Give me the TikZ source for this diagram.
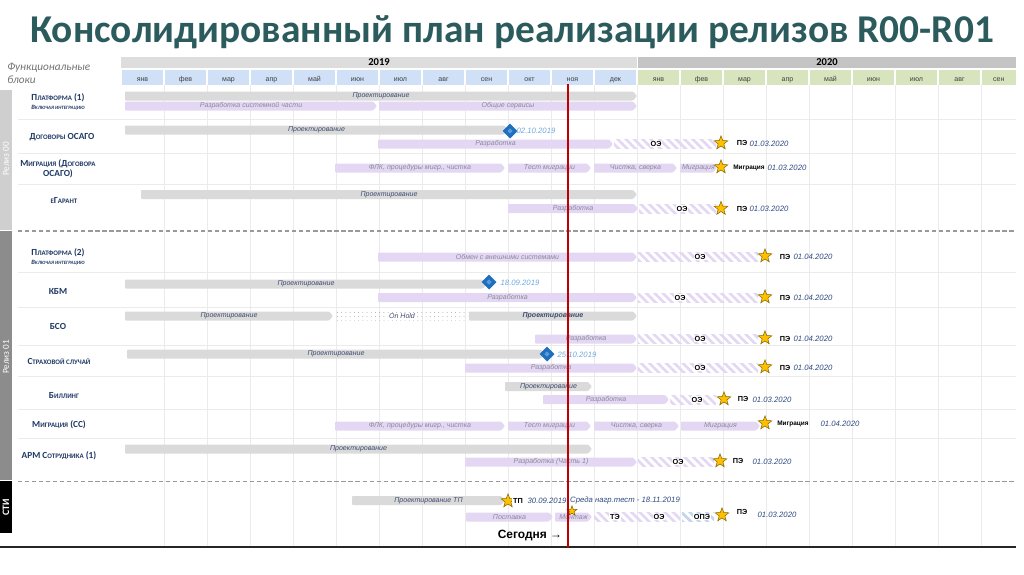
\documentclass[tikz,border=0pt]{standalone}
\usepackage{fontspec}
\setmainfont{Liberation Sans}
\newfontfamily\calibri{Carlito}
\usetikzlibrary{shapes.geometric,patterns.meta}

\definecolor{titleCol}{HTML}{2B5B5C}
\definecolor{navy}{HTML}{1F3864}
\definecolor{barGrey}{HTML}{DADADA}
\definecolor{barLav}{HTML}{E3D7F3}
\definecolor{txtBlue}{HTML}{3D4B6E}
\definecolor{txtGrey}{HTML}{8A8A9A}
\definecolor{dateBlue}{HTML}{2F4A80}
\definecolor{diaBlue}{HTML}{1F6FC0}
\definecolor{diaLight}{HTML}{5B9BD5}
\definecolor{diaText}{HTML}{6FA8DC}
\definecolor{starGold}{HTML}{FFC000}
\definecolor{starEdge}{HTML}{7F6000}
\definecolor{yr19}{HTML}{DDDDDD}
\definecolor{yr20}{HTML}{C4C4C4}
\definecolor{mon19}{HTML}{CFE0F7}
\definecolor{mon20}{HTML}{D8E4BE}
\definecolor{gridCol}{HTML}{EBEBEB}
\definecolor{todayRed}{HTML}{C00000}
\definecolor{rel00}{HTML}{CFCFCF}
\definecolor{rel01}{HTML}{8C8C8C}
\definecolor{opeBlue}{HTML}{C5D5EE}

% fake small caps for the block names
\newcommand\smc[1]{{\fontsize{4.9}{5}\selectfont\MakeUppercase{#1}}}
\newcommand\smcs[1]{{\fontsize{3.5}{4}\selectfont\MakeUppercase{#1}}}

% style, name, x from, x to, y, text
\newcommand\ganttbar[6]{%
  \fill[#1] (#3,#5-4.5) -- (#4-4,#5-4.5) -- (#4,#5) -- (#4-4,#5+4.5) -- (#3,#5+4.5) -- cycle;
  \node[#1 text] (#2) at ({(#3+#4)/2},#5) {#6};}
% hatched phase: [colour] x from, x to, y
\newcommand\phase[4][barLav]{%
  \fill[pattern={Lines[angle=-45,distance=4.2pt,line width=1.9pt]}, pattern color=#1] (#2,#4-4.5) rectangle (#3,#4+4.5);}

\begin{document}
\begin{tikzpicture}[x=0.025cm, y=-0.025cm,
    gtask/.style={fill=barGrey, rounded corners=0.6pt},
    gtask text/.style={font=\fontsize{5}{6}\selectfont\itshape, text=txtBlue, inner sep=0},
    ltask/.style={fill=barLav, rounded corners=0.6pt},
    ltask text/.style={font=\fontsize{5}{6}\selectfont\itshape, text=txtGrey, inner sep=0},
    block/.style={font=\calibri\bfseries\fontsize{6.6}{7.4}\selectfont, text=navy, align=center, inner sep=0},
    month/.style={font=\fontsize{5}{6}\selectfont, text=black!75, text height=1.5ex, text depth=0.3ex, inner sep=0},
    year/.style={font=\calibri\bfseries\fontsize{7.5}{8}\selectfont},
    release/.style={rotate=90, font=\calibri\fontsize{6.5}{7}\selectfont, text=white},
    gridline/.style={draw=gridCol, line width=0.5pt},
    dashsep/.style={draw=black!40, line width=0.8pt, dash pattern=on 3pt off 2pt},
    mstar/.style={star, star points=5, star point ratio=2.4, minimum size=0.36cm, inner sep=0, fill=starGold, draw=starEdge, line width=0.35pt},
    mdia/.style={diamond, minimum size=0.38cm, inner sep=0, fill=diaBlue},
    mdia in/.style={diamond, minimum size=0.14cm, inner sep=0, fill=diaLight},
    tag/.style={font=\fontsize{5.2}{6}\selectfont\bfseries, fill=white, inner sep=0.5pt},
    date/.style={font=\fontsize{5.5}{6}\selectfont\itshape, text=dateBlue},
    mdate/.style={font=\fontsize{5.5}{6}\selectfont\itshape, text=diaText}
]
\useasboundingbox (0,0) rectangle (1024,574);

\node[font=\calibri\bfseries\fontsize{28}{32}\selectfont, text=titleCol] (title) at (512,32) {Консолидированный план реализации релизов R00-R01};

% header
\node[font=\calibri\itshape\fontsize{8}{9}\selectfont, text=black!55, align=left, anchor=west, inner sep=0] (fb) at (7,73) {Функциональные\\блоки};
\fill[yr19] (121,57) rectangle (636.5,68);
\fill[yr20] (637.5,57) rectangle (1016,68);
\node[year] (y19) at (379,62.5) {2019};
\node[year] (y20) at (827,62.5) {2020};
\foreach \m [count=\i from 0] in {янв,фев,мар,апр,май,июн,июл,авг,сен,окт,ноя,дек,янв,фев,мар,апр,май,июн,июл,авг,сен} {
  \pgfmathsetmacro\xl{121+43*\i+0.6}
  \pgfmathsetmacro\xr{min(121+43*\i+42.4,1016)}
  \ifnum\i<12 \fill[mon19] (\xl,70) rectangle (\xr,85); \else \fill[mon20] (\xl,70) rectangle (\xr,85); \fi
  \node[month] (m\i) at ({(\xl+\xr)/2},77.5) {\m};
}

% grid
\foreach \i in {1,...,20}
  \draw[gridline] ({121+43*\i},85) -- ({121+43*\i},547);
\foreach \y in {119,153,184,272,307,345,376,409,438}
  \draw[gridline] (18,\y) -- (1016,\y);
\draw[dashsep] (18,231) -- (1016,231);
\draw[dashsep] (18,481.5) -- (1016,481.5);

% release bands
\fill[rel00] (0,90) rectangle (12,230);
\fill[rel01] (0,230.5) rectangle (12,480);
\fill[black] (0,481) rectangle (12,533);
\node[release] (r00) at (6,159) {Релиз 00};
\node[release] (r01) at (6,357) {Релиз 01};
\node[release, font=\calibri\bfseries\fontsize{7}{8}\selectfont] (sti) at (6,507) {СТИ};

% blocks
\node[block] (b1) at (58,102) {П\smc{латформа} (1)\\[-1pt]{\fontsize{4.6}{5}\selectfont\itshape В\smcs{ключая интеграцию}}};
\node[block] (b2) at (62,137) {Д\smc{оговоры} ОСАГО};
\node[block] (b3) at (58,168.5) {М\smc{играция} (Д\smc{оговора}\\ОСАГО)};
\node[block] (b4) at (64,200.5) {\smc{е}Г\smc{арант}};
\node[block] (b5) at (58,256.5) {П\smc{латформа} (2)\\[-1pt]{\fontsize{4.6}{5}\selectfont\itshape В\smcs{ключая интеграцию}}};
\node[block] (b6) at (58,291.5) {КБМ};
\node[block] (b7) at (58,326.5) {БСО};
\node[block] (b8) at (59,361.5) {С\smc{траховой случай}};
\node[block] (b9) at (64,395.5) {Б\smc{иллинг}};
\node[block] (b10) at (59,424.5) {М\smc{играция} (СС)};
\node[block] (b11) at (59,455.5) {АРМ С\smc{отрудника} (1)};

% Платформа (1)
\ganttbar{gtask}{p1a}{125}{637}{96}{Проектирование}
\ganttbar{ltask}{p1b}{125}{377}{106}{Разработка системной части}
\ganttbar{ltask}{p1c}{379}{637}{106}{Общие сервисы}

% Договоры ОСАГО
\ganttbar{gtask}{p2a}{125}{508}{130}{Проектирование}
\node[mdia] (d2) at (510,131) {};
\node[mdia in] (d2i) at (d2) {};
\node[mdate] (d2t) at (536,131) {02.10.2019};
\ganttbar{ltask}{p2b}{378}{613}{144}{Разработка}
\phase{614}{716}{144}
\node[tag] (o2) at (656,144) {ОЭ};
\node[mstar] (s2) at (721,143) {};
\node[tag] (e2) at (742,143) {ПЭ};
\node[date] (t2) at (769,144) {01.03.2020};

% Миграция (Договора ОСАГО)
\ganttbar{ltask}{p3a}{335}{505}{168}{ФЛК, процедуры мигр., чистка}
\ganttbar{ltask}{p3b}{508}{591}{168}{Тест миграции}
\ganttbar{ltask}{p3c}{594}{677}{168}{Чистка, сверка}
\ganttbar{ltask}{p3d}{680}{717}{168}{Миграция}
\node[mstar] (s3) at (721,167) {};
\node[tag, font=\fontsize{4.6}{5}\selectfont\bfseries] (e3) at (749,167.5) {Миграция};
\node[date] (t3) at (787,167.5) {01.03.2020};

% еГарант
\ganttbar{gtask}{p4a}{141}{637}{194.5}{Проектирование}
\ganttbar{ltask}{p4b}{508}{638}{208.5}{Разработка}
\phase{639}{716}{208.5}
\node[tag] (o4) at (682,208.5) {ОЭ};
\node[mstar] (s4) at (721,208.5) {};
\node[tag] (e4) at (742,209) {ПЭ};
\node[date] (t4) at (769,209) {01.03.2020};

% Платформа (2)
\ganttbar{ltask}{p5a}{378}{637}{257}{Обмен с внешними системами}
\phase{638}{758}{257}
\node[tag] (o5) at (700,257) {ОЭ};
\node[mstar] (s5) at (765,256) {};
\node[tag] (e5) at (785,256.5) {ПЭ};
\node[date] (t5) at (813,257) {01.04.2020};

% КБМ
\ganttbar{gtask}{p6a}{125}{487}{284}{Проектирование}
\node[mdia] (d6) at (489,282) {};
\node[mdia in] (d6i) at (d6) {};
\node[mdate] (d6t) at (520,283) {18.09.2019};
\ganttbar{ltask}{p6b}{378}{637}{297.5}{Разработка}
\phase{638}{758}{297.5}
\node[tag] (o6) at (680,297.5) {ОЭ};
\node[mstar] (s6) at (765,297) {};
\node[tag] (e6) at (785,297.5) {ПЭ};
\node[date] (t6) at (813,298) {01.04.2020};

% БСО
\ganttbar{gtask}{p7a}{125}{333}{316}{Проектирование}
\fill[pattern={Dots[distance=3pt,radius=0.35pt]}, pattern color=black!35] (335,311.5) rectangle (468,320.5);
\node[gtask text, fill=white, inner sep=0.6pt] (hold) at (402,316) {On Hold};
\ganttbar{gtask}{p7b}{469}{637}{316}{\bfseries Проектирование}
\ganttbar{ltask}{p7c}{535}{637}{339}{Разработка}
\phase{638}{758}{339}
\node[tag] (o7) at (700,339) {ОЭ};
\node[mstar] (s7) at (765,338) {};
\node[tag] (e7) at (785,338.5) {ПЭ};
\node[date] (t7) at (813,339) {01.04.2020};

% Страховой случай
\ganttbar{gtask}{p8a}{127}{545}{354}{Проектирование}
\node[mdia] (d8) at (547,354) {};
\node[mdia in] (d8i) at (d8) {};
\node[mdate] (d8t) at (577,355) {25.10.2019};
\ganttbar{ltask}{p8b}{465}{637}{368}{Разработка}
\phase{638}{758}{368}
\node[tag] (o8) at (700,368) {ОЭ};
\node[mstar] (s8) at (765,367) {};
\node[tag] (e8) at (785,367.5) {ПЭ};
\node[date] (t8) at (813,368) {01.04.2020};

% Биллинг
\ganttbar{gtask}{p9a}{505}{592}{386.5}{Проектирование}
\ganttbar{ltask}{p9b}{543}{669}{399.5}{Разработка}
\phase{670}{716}{399.5}
\node[tag] (o9) at (697,399.5) {ОЭ};
\node[mstar] (s9) at (724,399) {};
\node[tag] (e9) at (743,399) {ПЭ};
\node[date] (t9) at (772,399.5) {01.03.2020};

% Миграция (СС)
\ganttbar{ltask}{p10a}{335}{505}{426}{ФЛК, процедуры мигр., чистка}
\ganttbar{ltask}{p10b}{508}{591}{426}{Тест миграции}
\ganttbar{ltask}{p10c}{594}{679}{426}{Чистка, сверка}
\ganttbar{ltask}{p10d}{681}{760}{426}{Миграция}
\node[mstar] (s10) at (765,423) {};
\node[tag, font=\fontsize{4.6}{5}\selectfont\bfseries] (e10) at (793,424) {Миграция};
\node[date] (t10) at (840,424) {01.04.2020};

% АРМ Сотрудника (1)
\ganttbar{gtask}{p11a}{125}{592}{449}{Проектирование}
\ganttbar{ltask}{p11b}{465}{637}{462}{Разработка (Часть 1)}
\phase{638}{714}{462}
\node[tag] (o11) at (678,462) {ОЭ};
\node[mstar] (s11) at (720,461) {};
\node[tag] (e11) at (738,461) {ПЭ};
\node[date] (t11) at (772,462) {01.03.2020};

% СТИ
\ganttbar{gtask}{p12a}{352}{505}{500.5}{Проектирование ТП}
\node[mstar] (s12a) at (508,501) {};
\node[tag] (tp) at (518,501) {ТП};
\node[date] (t12a) at (547,501) {30.09.2019};
\node[date] (t12b) at (625,500) {Среда нагр.тест - 18.11.2019};
\ganttbar{ltask}{p12b}{466}{553}{517}{Поставка}
\ganttbar{ltask}{p12c}{555}{592}{517}{Монтаж}
\node[mstar, minimum size=0.26cm] (s12b) at (572,511) {};
\phase{594}{680}{517}
\phase[opeBlue]{682}{714}{517}
\node[tag] (te12) at (615,517) {ТЭ};
\node[tag] (o12) at (659,517) {ОЭ};
\node[tag] (op12) at (702,517) {ОПЭ};
\node[mstar] (s12c) at (722,515) {};
\node[tag] (e12) at (742,512) {ПЭ};
\node[date] (t12) at (777,515) {01.03.2020};

% today
\draw[black!85, line width=1.4pt] (0,547) -- (1016,547);
\draw[todayRed, line width=2.1pt] (568,84) -- (568,548);
\node[font=\bfseries\fontsize{8.5}{9}\selectfont] (today) at (530,536) {Сегодня →};
\end{tikzpicture}
\end{document}
